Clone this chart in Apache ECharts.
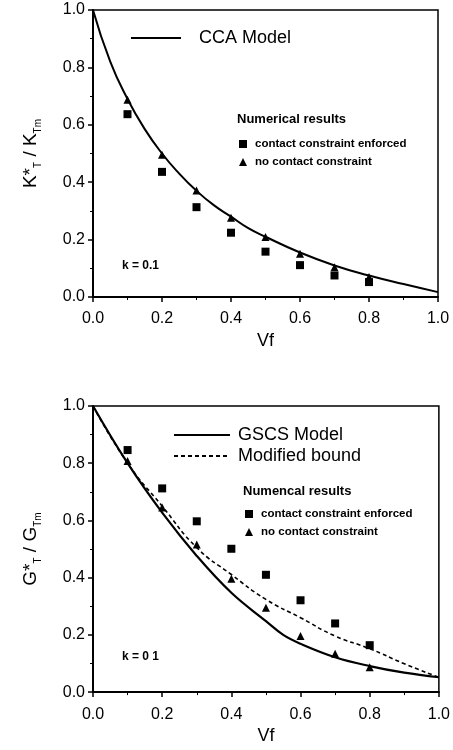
<!DOCTYPE html>
<html>
<head>
<meta charset="utf-8">
<script src="https://cdn.jsdelivr.net/npm/echarts@6/dist/echarts.min.js"></script>
<style>
html, body { margin: 0; padding: 0; background: #fff; }
.charts { width: 453px; height: 375px; }
</style>
</head>
<body>
<div class="charts" id="kChart"></div>
<div class="charts" id="gChart"></div>
<script>
// volume fractions of the numerical results
var vfPoints = [0.1, 0.2, 0.3, 0.4, 0.5, 0.6, 0.7, 0.8];

// K*T / KTm
var ccaX = [0, 0.05, 0.1, 0.15, 0.2, 0.25, 0.3, 0.35, 0.4, 0.45, 0.5, 0.6, 0.7, 0.8, 0.9, 1.0];
var ccaY = [1.0, 0.82, 0.69, 0.585, 0.50, 0.43, 0.37, 0.32, 0.28, 0.24, 0.21, 0.155, 0.11, 0.075, 0.045, 0.017];
var kEnforced = [0.637, 0.436, 0.313, 0.224, 0.158, 0.111, 0.075, 0.052];
var kNoContact = [0.687, 0.496, 0.371, 0.276, 0.209, 0.151, 0.104, 0.070];

// G*T / GTm
var gscsX = [0, 0.1, 0.2, 0.3, 0.4, 0.5, 0.55, 0.6, 0.7, 0.8, 0.9, 1.0];
var gscsY = [1.0, 0.80, 0.627, 0.476, 0.347, 0.248, 0.200, 0.169, 0.122, 0.091, 0.068, 0.052];
var boundX = [0, 0.1, 0.2, 0.3, 0.4, 0.5, 0.6, 0.7, 0.8, 0.9, 1.0];
var boundY = [1.0, 0.80, 0.65, 0.505, 0.411, 0.324, 0.26, 0.196, 0.152, 0.099, 0.052];
var gEnforced = [0.846, 0.712, 0.597, 0.501, 0.410, 0.321, 0.240, 0.164];
var gNoContact = [0.808, 0.645, 0.516, 0.396, 0.295, 0.196, 0.134, 0.087];

var axisTicks = [0, 0.2, 0.4, 0.6, 0.8, 1.0];

var FONT = 'Liberation Sans, Arial, Helvetica, sans-serif';

function pairs(xs, ys) {
    return xs.map(function (x, i) { return [x, ys[i]]; });
}

function makeAxis(extra) {
    var axis = {
        type: 'value',
        min: axisTicks[0],
        max: axisTicks[axisTicks.length - 1],
        interval: axisTicks[1] - axisTicks[0],
        axisLine: { show: true, lineStyle: { color: '#000', width: 2 } },
        axisTick: { show: true, length: 5, lineStyle: { color: '#000', width: 1.5 } },
        minorTick: { show: true, splitNumber: 2, length: 3, lineStyle: { color: '#000', width: 1 } },
        splitLine: { show: false },
        axisLabel: {
            color: '#000', fontSize: 16, fontFamily: FONT, margin: 8,
            formatter: function (v) { return v.toFixed(1); }
        },
        nameTextStyle: { color: '#000', fontFamily: FONT }
    };
    return Object.assign(axis, extra);
}

function subRich(size) {
    return {
        m: { fontSize: size, fontFamily: FONT, color: '#000', lineHeight: 25 },
        sub: { fontSize: 10, fontFamily: FONT, color: '#000', lineHeight: 25, verticalAlign: 'bottom' }
    };
}

function scatterSeries(name, symbol, values) {
    return {
        name: name,
        type: 'scatter',
        symbol: symbol,
        symbolSize: 8,
        itemStyle: { color: '#000', opacity: 1 },
        data: pairs(vfPoints, values),
        z: 3
    };
}

function buildOption(cfg) {
    return {
        animation: false,
        grid: {
            left: 93, top: cfg.gridTop, width: cfg.gridWidth, height: 287,
            show: true, borderColor: '#000', borderWidth: 1.5
        },
        xAxis: makeAxis({
            name: 'Vf', nameLocation: 'middle', nameGap: 33,
            nameTextStyle: { color: '#000', fontFamily: FONT, fontSize: 18 },
            axisLabel: {
                color: '#000', fontSize: 16, fontFamily: FONT, margin: 14,
                formatter: function (v) { return v.toFixed(1); }
            }
        }),
        yAxis: makeAxis({
            name: cfg.yName, nameLocation: 'middle', nameGap: 50,
            nameTextStyle: { rich: subRich(19) }
        }),
        legend: cfg.legends,
        graphic: cfg.graphic,
        series: cfg.series
    };
}

var markerLegend = function (left, top, names) {
    return {
        data: names,
        orient: 'vertical',
        left: left, top: top,
        itemWidth: 8, itemHeight: 8, itemGap: 6,
        selectedMode: false,
        textStyle: { fontSize: 11.5, fontWeight: 'bold', fontFamily: FONT, color: '#000', padding: [0, 0, 0, 3] }
    };
};

var lineLegend = function (left, top, names, width, pad) {
    return {
        data: names, orient: 'vertical', left: left, top: top,
        itemWidth: width, itemHeight: 14, itemGap: 3, selectedMode: false,
        itemStyle: { opacity: 0 },
        textStyle: { fontSize: 18, fontFamily: FONT, color: '#000', padding: [0, 0, 0, pad] }
    };
};

var kChart = echarts.init(document.getElementById('kChart'));
kChart.setOption(buildOption({
    gridTop: 10,
    gridWidth: 345,
    yName: '{m|K*}{sub|T}{m| / K}{sub|Tm}',
    legends: [
        lineLegend(125, 24, ['CCA Model'], 50, 13),
        markerLegend(234, 133, ['contact constraint enforced', 'no contact constraint'])
    ],
    graphic: [
        { type: 'text', left: 237, top: 113, style: { text: 'Numerical results', fontSize: 13, fontWeight: 'bold', fontFamily: FONT, fill: '#000' } },
        { type: 'text', left: 122, top: 260, style: { text: 'k = 0.1', fontSize: 12, fontWeight: 'bold', fontFamily: FONT, fill: '#000' } }
    ],
    series: [
        {
            name: 'CCA Model', type: 'line', smooth: true, symbol: 'none',
            itemStyle: { color: '#000' },
            lineStyle: { color: '#000', width: 2 },
            data: pairs(ccaX, ccaY)
        },
        scatterSeries('contact constraint enforced', 'rect', kEnforced),
        scatterSeries('no contact constraint', 'triangle', kNoContact)
    ]
}));

var gChart = echarts.init(document.getElementById('gChart'));
gChart.setOption(buildOption({
    gridTop: 31,
    gridWidth: 347,
    yName: '{m|G*}{sub|T}{m| / G}{sub|Tm}',
    legends: [
        lineLegend(168, 46, ['GSCS Model', 'Modified bound'], 56, 3),
        markerLegend(240, 128, ['contact constraint enforced', 'no contact constraint'])
    ],
    graphic: [
        { type: 'text', left: 243, top: 110, style: { text: 'Numencal results', fontSize: 13, fontWeight: 'bold', fontFamily: FONT, fill: '#000' } },
        { type: 'text', left: 122, top: 276, style: { text: 'k = 0 1', fontSize: 12, fontWeight: 'bold', fontFamily: FONT, fill: '#000' } }
    ],
    series: [
        {
            name: 'GSCS Model', type: 'line', smooth: 0.4, symbol: 'none',
            itemStyle: { color: '#000' },
            lineStyle: { color: '#000', width: 2.2 },
            data: pairs(gscsX, gscsY)
        },
        {
            name: 'Modified bound', type: 'line', smooth: true, symbol: 'none',
            itemStyle: { color: '#000' },
            lineStyle: { color: '#000', width: 1.6, type: [4, 3] },
            data: pairs(boundX, boundY)
        },
        scatterSeries('contact constraint enforced', 'rect', gEnforced),
        scatterSeries('no contact constraint', 'triangle', gNoContact)
    ]
}));
</script>
</body>
</html>
